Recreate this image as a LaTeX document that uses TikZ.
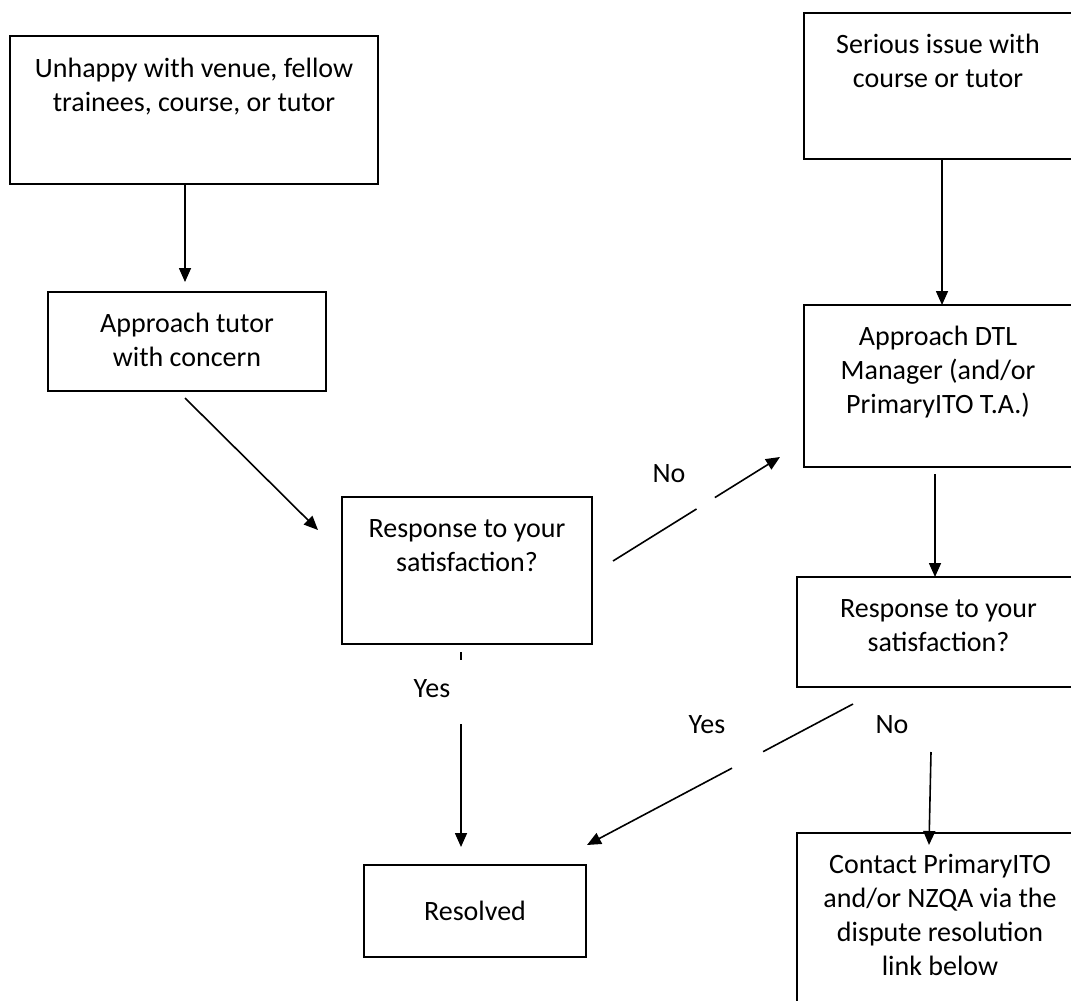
\documentclass[tikz,border=0pt]{standalone}
\usepackage{fontspec}
\setmainfont{Carlito}
\usetikzlibrary{arrows.meta,calc}
\newcommand\bxt[4]{\parbox[c][#2pt][t]{#1pt}{\centering\rule{0pt}{#3pt}#4\par}}
\begin{document}
\begin{tikzpicture}[x=1pt,y=-1pt,
  box/.style={draw,line width=2pt,inner sep=0pt,outer sep=0pt,anchor=north west,font=\fontsize{28}{34}\selectfont},
  arr/.style={line width=1.6pt,-{Triangle[length=14pt,width=12pt]}},
  ln/.style={line width=1.6pt},
  lbl/.style={font=\fontsize{28}{34}\selectfont,inner sep=0pt,anchor=base}]
\useasboundingbox (0,0) rectangle (1071,1001);
% boxes
\node[box] (b1)  at (10,36)   {\bxt{368}{148}{41}{Unhappy with venue, fellow\\trainees, course, or tutor}};
\node[box] (tut) at (48,292)  {\bxt{278}{99}{40}{Approach tutor\\with concern}};
\node[box] (r1)  at (342,497) {\bxt{250}{147}{40}{Response to your\\satisfaction?}};
\node[box] (ser) at (804,13)  {\bxt{268}{146}{40}{Serious issue with\\course or tutor}};
\node[box] (dtl) at (804,305) {\bxt{268}{162}{40}{Approach DTL\\Manager (and/or\\PrimaryITO T.A.)}};
\node[box] (r2)  at (797,577) {\bxt{283}{110}{40}{Response to your\\satisfaction?}};
\node[box] (res) at (364,865) {\bxt{222}{92}{55}{Resolved}};
\node[box] (con) at (797,833) {\bxt{286}{190}{40}{Contact PrimaryITO\\and/or NZQA via the\\dispute resolution\\link below}};
% labels
\node[lbl] (lno1)  at (669,482) {No};
\node[lbl] (lyes1) at (432,697) {Yes};
\node[lbl] (lyes2) at (707,733) {Yes};
\node[lbl] (lno2)  at (892,733) {No};
% connectors
\coordinate (p1) at (185,282);
\draw[arr] (p1 |- b1.south) -- (p1);
\coordinate (p2s) at (185,398);
\coordinate (p2e) at (318,530);
\draw[arr] (p2s) -- (p2e);
\coordinate (n1) at (613,561);
\coordinate (n4) at (780,457);
\draw[ln] (n1) -- ($(n1)!0.5!(n4)$);
\draw[arr] ($(n1)!0.61!(n4)$) -- (n4);
\coordinate (sx) at (942,0);
\draw[arr] (sx |- ser.south) -- (sx |- dtl.north);
\coordinate (dx) at (935,474);
\draw[arr] (dx) -- (dx |- r2.north);
\coordinate (y1) at (461,652);
\coordinate (y2) at (461,660);
\coordinate (y3) at (461,724);
\coordinate (y4) at (461,847);
\draw[ln] (y1) -- (y2);
\draw[arr] (y3) -- (y4);
\coordinate (m1) at (853,704);
\coordinate (m4) at (587,845);
\draw[ln] (m1) -- ($(m1)!0.338!(m4)$);
\draw[arr] ($(m1)!0.455!(m4)$) -- (m4);
\coordinate (q1) at (931,752);
\draw[arr] (q1) -- (929,845);
\end{tikzpicture}
\end{document}
